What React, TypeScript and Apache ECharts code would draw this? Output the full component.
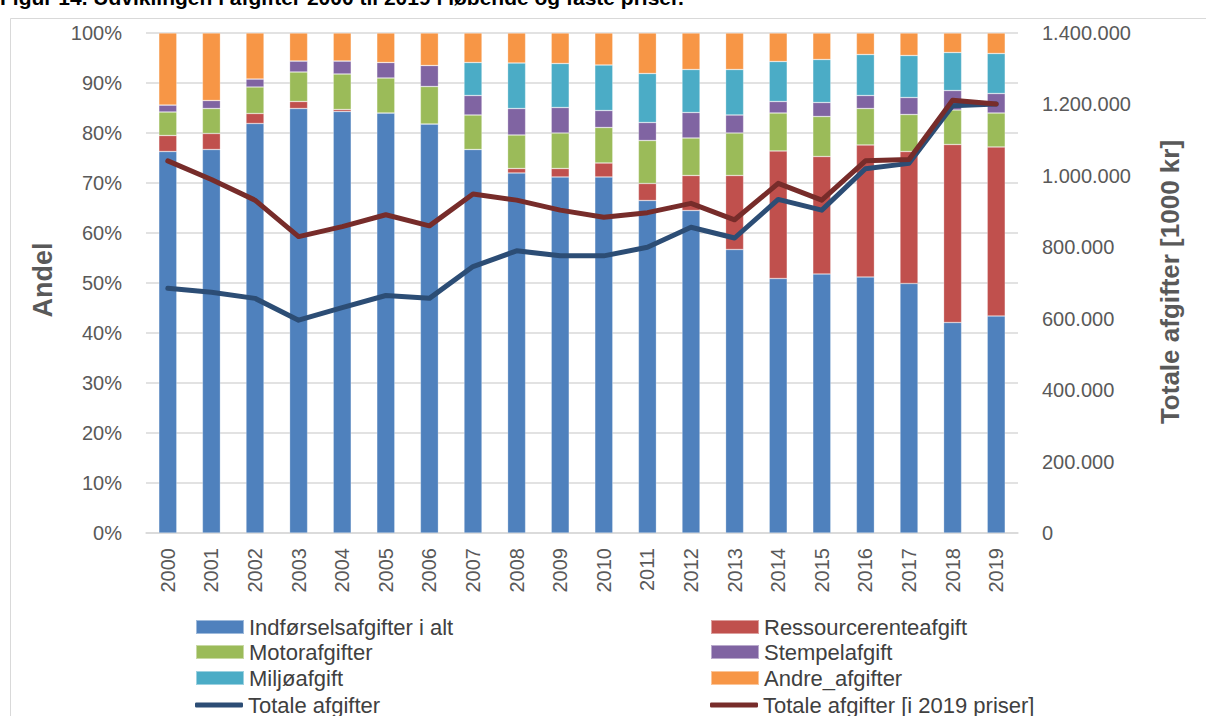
import React, { useEffect, useRef } from "react";
import * as echarts from "echarts";

const years = ["2000","2001","2002","2003","2004","2005","2006","2007","2008","2009","2010","2011","2012","2013","2014","2015","2016","2017","2018","2019"];
const indforsel = [76.3,76.7,81.9,84.9,84.3,84.0,81.8,76.7,72.0,71.2,71.2,66.5,64.5,56.7,50.9,51.8,51.2,49.9,42.1,43.4];
const ressource = [3.2,3.2,2.0,1.4,0.4,0,0,0,0.9,1.7,2.8,3.4,7.0,14.8,25.5,23.5,26.4,26.4,35.6,33.8];
const motor = [4.7,5.0,5.3,5.9,7.1,7.0,7.5,6.9,6.7,7.1,7.1,8.6,7.5,8.5,7.6,8.0,7.3,7.4,6.9,6.8];
const stempel = [1.4,1.6,1.6,2.2,2.6,3.1,4.2,3.9,5.3,5.1,3.4,3.6,5.1,3.6,2.3,2.8,2.6,3.4,3.9,3.9];
const miljo = [0,0,0,0,0,0,0,6.6,9.1,8.8,9.1,9.8,8.6,9.1,8.0,8.6,8.2,8.4,7.6,8.0];
const andre = [14.4,13.5,9.2,5.6,5.6,5.9,6.5,5.9,6.0,6.1,6.4,8.1,7.3,7.3,5.7,5.3,4.3,4.5,3.9,4.1];
const totale = [685000,674000,657000,596000,631000,665000,657000,746000,790000,776000,776000,800000,856000,826000,934000,904000,1020000,1035000,1196000,1201000];
const totale2019 = [1042000,990000,932000,830000,858000,891000,860000,949000,932000,904000,884000,897000,923000,877000,979000,932000,1042000,1046000,1212000,1201000];
const leftTicks = { min: 0, max: 100, interval: 10 };
const rightTicks = { min: 0, max: 1400000, interval: 200000 };

const barNames = ["Indførselsafgifter i alt", "Ressourcerenteafgift", "Motorafgifter", "Stempelafgift", "Miljøafgift", "Andre_afgifter"];
const lineNames = ["Totale afgifter", "Totale afgifter [i 2019 priser]"];

const FONT = "'Liberation Sans', Arial, sans-serif";

function fmtDot(v: number) {
  return String(Math.round(v)).replace(/\B(?=(\d{3})+(?!\d))/g, ".");
}

export default function App() {
  const ref = useRef<HTMLDivElement>(null);
  useEffect(() => {
    if (!ref.current) return;
    const chart = echarts.init(ref.current, null, { renderer: "svg" });
    const barCommon = {
      type: "bar",
      stack: "andel",
      barWidth: 18,
      yAxisIndex: 0,
      itemStyle: { borderColor: "rgba(255,255,255,0.45)", borderWidth: 0.6 },
    };
    const legendText = { fontFamily: FONT, fontSize: 22, color: "#404040" };
    const rowCenters = [627, 652, 678, 705];
    const colLefts = [195, 710];
    const legendOrder = [
      barNames[0], barNames[1],
      barNames[2], barNames[3],
      barNames[4], barNames[5],
      lineNames[0], lineNames[1],
    ];
    const legends = legendOrder.map((name, i) => {
      const row = Math.floor(i / 2);
      const col = i % 2;
      const isLine = row === 3;
      const h = isLine ? 5 : 14;
      return {
        orient: "horizontal",
        left: colLefts[col],
        top: rowCenters[row] - 12,
        height: 24,
        itemWidth: 48,
        itemHeight: h,
        itemGap: 0,
        padding: 0,
        icon: isLine ? "roundRect" : "rect",
        textStyle: { ...legendText, lineHeight: 24 },
        data: [name],
      };
    });
    chart.setOption({
      animation: false,
      textStyle: { fontFamily: FONT },
      grid: { left: 146, right: 188, top: 33, bottom: 183, containLabel: false },
      graphic: [
        { type: "rect", silent: true, shape: { x: 10.5, y: 18.5, width: 1400, height: 900 }, style: { fill: "none", stroke: "#d9d9d9", lineWidth: 1 } },
        { type: "text", x: 0, y: -13, style: { text: "Figur 14. Udviklingen i afgifter 2000 til 2019 i løbende og faste priser.", font: "bold 21px " + FONT, fill: "#000" } },
        { type: "text", x: 43, y: 280, rotation: Math.PI / 2, style: { text: "Andel", font: "bold 27px " + FONT, fill: "#595959", textAlign: "center", textVerticalAlign: "middle" } },
        { type: "text", x: 1170, y: 282, rotation: Math.PI / 2, style: { text: "Totale afgifter [1000 kr]", font: "bold 26px " + FONT, fill: "#595959", textAlign: "center", textVerticalAlign: "middle" } },
      ],
      legend: legends,
      xAxis: {
        type: "category",
        data: years,
        axisLine: { lineStyle: { color: "#d9d9d9", width: 1.5 } },
        axisTick: { show: false },
        axisLabel: { rotate: 90, fontSize: 20, color: "#595959", margin: 15 },
      },
      yAxis: [
        {
          type: "value", ...leftTicks,
          axisLine: { show: false }, axisTick: { show: false },
          splitLine: { lineStyle: { color: "#d9d9d9", width: 1.5 } },
          axisLabel: { formatter: "{value}%", fontSize: 20, color: "#595959", margin: 24 },
        },
        {
          type: "value", ...rightTicks,
          axisLine: { show: false }, axisTick: { show: false },
          splitLine: { show: false },
          axisLabel: { formatter: (v: number) => fmtDot(v), fontSize: 20, color: "#595959", margin: 24 },
        },
      ],
      series: [
        { ...barCommon, name: barNames[0], data: indforsel, itemStyle: { ...barCommon.itemStyle, color: "#4F81BD" } },
        { ...barCommon, name: barNames[1], data: ressource, itemStyle: { ...barCommon.itemStyle, color: "#C0504D" } },
        { ...barCommon, name: barNames[2], data: motor, itemStyle: { ...barCommon.itemStyle, color: "#9BBB59" } },
        { ...barCommon, name: barNames[3], data: stempel, itemStyle: { ...barCommon.itemStyle, color: "#8064A2" } },
        { ...barCommon, name: barNames[4], data: miljo, itemStyle: { ...barCommon.itemStyle, color: "#4BACC6" } },
        { ...barCommon, name: barNames[5], data: andre, itemStyle: { ...barCommon.itemStyle, color: "#F79646" } },
        {
          name: lineNames[0], type: "line", yAxisIndex: 1, data: totale, symbol: "none",
          lineStyle: { color: "#2C4D75", width: 5, cap: "round", join: "round" }, itemStyle: { color: "#2C4D75" }, z: 5,
        },
        {
          name: lineNames[1], type: "line", yAxisIndex: 1, data: totale2019, symbol: "none",
          lineStyle: { color: "#772C2A", width: 5, cap: "round", join: "round" }, itemStyle: { color: "#772C2A" }, z: 6,
        },
      ],
    });
    return () => chart.dispose();
  }, []);
  return <div ref={ref} style={{ position: "fixed", left: 0, top: 0, width: 1206, height: 716, background: "#fff" }} />;
}
